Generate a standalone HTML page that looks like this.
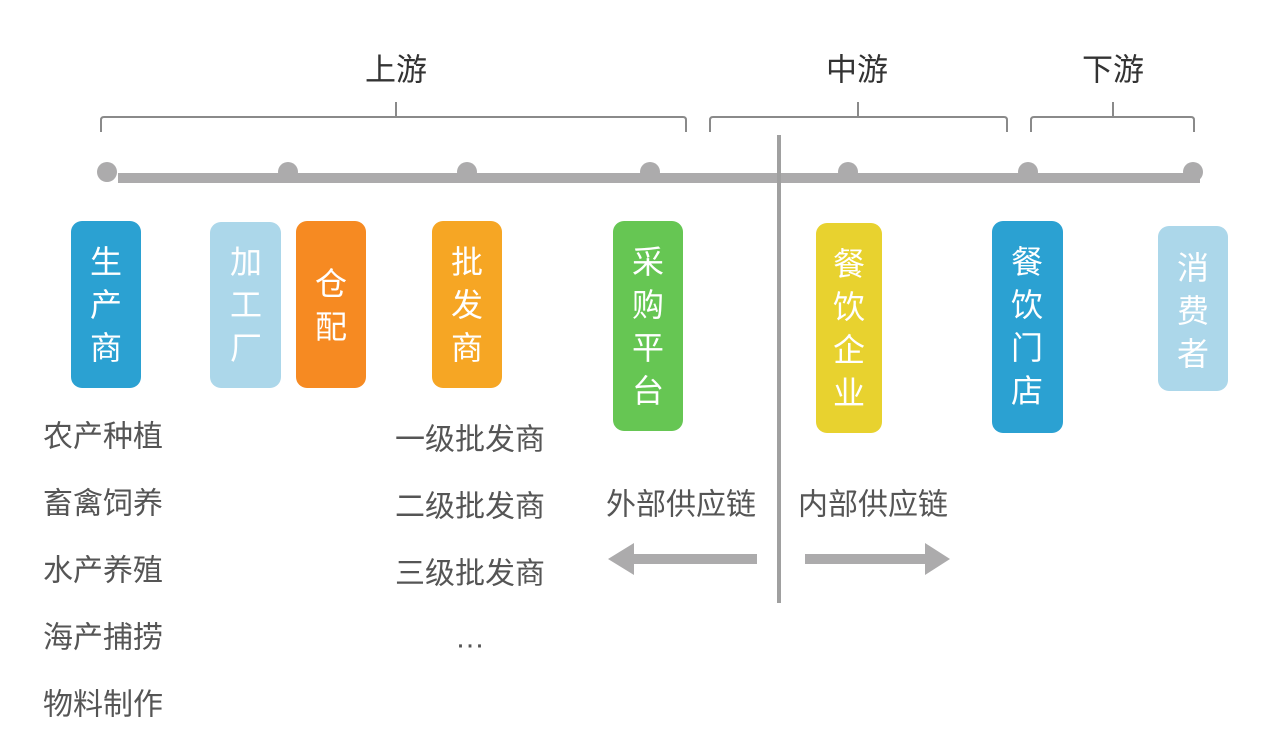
<!DOCTYPE html>
<html><head><meta charset="utf-8"><style>
html,body{margin:0;padding:0;background:#fff;width:1269px;height:747px;overflow:hidden}
text{font-family:"Liberation Sans","Noto Sans CJK SC",sans-serif}
</style></head><body>
<svg width="1269" height="747" viewBox="0 0 1269 747" xmlns="http://www.w3.org/2000/svg">
<g fill="#333" font-size="31" text-anchor="middle" dominant-baseline="central">
<text x="396" y="70">上游</text>
<text x="857" y="70">中游</text>
<text x="1113" y="70">下游</text>
</g>
<g fill="none" stroke="#8a8a8a" stroke-width="2">
<path d="M101 132 V120 Q101 117 104 117 H683 Q686 117 686 120 V132 M396 117 V102"/>
<path d="M710 132 V120 Q710 117 713 117 H1004 Q1007 117 1007 120 V132 M858 117 V102"/>
<path d="M1031 132 V120 Q1031 117 1034 117 H1191 Q1194 117 1194 120 V132 M1113 117 V102"/>
</g>
<rect x="118" y="173" width="1082" height="10" fill="#acabac"/>
<g fill="#acabac">
<circle cx="107" cy="172" r="10"/><circle cx="288" cy="172" r="10"/><circle cx="467" cy="172" r="10"/>
<circle cx="650" cy="172" r="10"/><circle cx="848" cy="172" r="10"/><circle cx="1028" cy="172" r="10"/><circle cx="1193" cy="172" r="10"/>
</g>
<rect x="777" y="135" width="4" height="468" fill="#a0a0a0"/>
<g>
<rect x="71" y="221" width="70" height="167" rx="11" fill="#2ba1d2"/>
<rect x="210" y="222" width="71" height="166" rx="11" fill="#acd7ea"/>
<rect x="296" y="221" width="70" height="167" rx="11" fill="#f68a22"/>
<rect x="432" y="221" width="70" height="167" rx="11" fill="#f6a624"/>
<rect x="613" y="221" width="70" height="210" rx="11" fill="#66c653"/>
<rect x="816" y="223" width="66" height="210" rx="11" fill="#e8d22f"/>
<rect x="992" y="221" width="71" height="212" rx="11" fill="#2ba1d2"/>
<rect x="1158" y="226" width="70" height="165" rx="11" fill="#acd7ea"/>
</g>
<g fill="#fff" font-size="32" text-anchor="middle" dominant-baseline="central">
<text x="106" y="262">生</text><text x="106" y="305">产</text><text x="106" y="348">商</text>
<text x="246" y="262">加</text><text x="246" y="305">工</text><text x="246" y="348">厂</text>
<text x="331" y="284">仓</text><text x="331" y="327">配</text>
<text x="467" y="262">批</text><text x="467" y="305">发</text><text x="467" y="348">商</text>
<text x="648" y="262">采</text><text x="648" y="305">购</text><text x="648" y="348">平</text><text x="648" y="391">台</text>
<text x="849" y="264">餐</text><text x="849" y="307">饮</text><text x="849" y="350">企</text><text x="849" y="393">业</text>
<text x="1027" y="262">餐</text><text x="1027" y="305">饮</text><text x="1027" y="348">门</text><text x="1027" y="391">店</text>
<text x="1193" y="268">消</text><text x="1193" y="311">费</text><text x="1193" y="354">者</text>
</g>
<g fill="#555" font-size="30" dominant-baseline="central">
<text x="43" y="437">农产种植</text>
<text x="43" y="504">畜禽饲养</text>
<text x="43" y="571">水产养殖</text>
<text x="43" y="638">海产捕捞</text>
<text x="43" y="705">物料制作</text>
<text x="395" y="440">一级批发商</text>
<text x="395" y="507">二级批发商</text>
<text x="395" y="574">三级批发商</text>
<text x="455" y="638">…</text>
<text x="606" y="505">外部供应链</text>
<text x="798" y="505">内部供应链</text>
</g>
<g fill="#acabac">
<polygon points="608,559 634,543 634,554 757,554 757,564 634,564 634,575"/>
<polygon points="950,559 925,543 925,554 805,554 805,564 925,564 925,575"/>
</g>
</svg>
</body></html>
